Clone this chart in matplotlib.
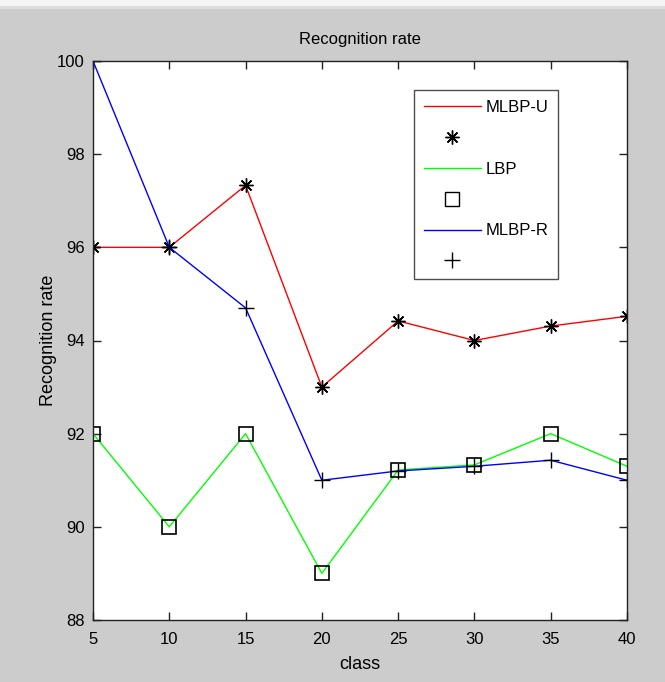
import matplotlib.pyplot as plt
from matplotlib.lines import Line2D

plt.rcParams['font.family'] = ['Liberation Sans Narrow', 'Liberation Sans', 'DejaVu Sans']

classes = [5, 10, 15, 20, 25, 30, 35, 40]
mlbp_u = [96, 96, 97.33, 93.0, 94.42, 94.0, 94.31, 94.52]
lbp = [92, 90, 92, 89, 91.22, 91.33, 92, 91.3]
mlbp_r = [100, 96, 94.7, 91.0, 91.2, 91.3, 91.43, 91.0]

fig = plt.figure(figsize=(6.65, 6.82), dpi=100, facecolor='#cccccc')
# thin light strip at the top of the window
fig.add_artist(plt.Rectangle((0, 1 - 6 / 682), 1, 6 / 682, transform=fig.transFigure,
                             color='#f4f4f4', lw=0))
fig.add_artist(plt.Rectangle((0, 1 - 9 / 682), 1, 3 / 682, transform=fig.transFigure,
                             color='#dcdcdc', lw=0))

ax = fig.add_axes([93 / 665, 1 - 620 / 682, 534 / 665, 559 / 682])
ax.set_facecolor('white')

ax.plot(classes, mlbp_u, color='#ff0000', lw=1)
ax.plot(classes, mlbp_u, ls='none', marker=(8, 2, 0), ms=10, mec='black', mew=1, color='black')
ax.plot(classes, lbp, color='#00ff00', lw=1)
ax.plot(classes, lbp, ls='none', marker='s', ms=10, mfc='none', mec='black', mew=1.2)
ax.plot(classes, mlbp_r, color='#0000ff', lw=1)
ax.plot(classes, mlbp_r, ls='none', marker='+', ms=12, mec='black', mew=1)

ax.set_xlim(5, 40)
ax.set_ylim(88, 100)
ax.set_xticks(classes)
ax.set_yticks([88, 90, 92, 94, 96, 98, 100])
ax.tick_params(direction='in', top=True, right=True, length=6, width=1,
               labelsize=12, color='#222222')
ax.tick_params(axis='x', pad=9)
ax.tick_params(axis='y', pad=6)
for s in ax.spines.values():
    s.set_color('#222222')
    s.set_linewidth(1)

ax.set_title('Recognition rate', fontsize=12, pad=12)
ax.set_xlabel('class', fontsize=13, labelpad=6)
ax.set_ylabel('Recognition rate', fontsize=13, labelpad=0)

handles = [
    Line2D([], [], color='#ff0000', lw=1),
    Line2D([], [], ls='none', marker=(8, 2, 0), ms=10, color='black'),
    Line2D([], [], color='#00ff00', lw=1),
    Line2D([], [], ls='none', marker='s', ms=10, mfc='none', mec='black'),
    Line2D([], [], color='#0000ff', lw=1),
    Line2D([], [], ls='none', marker='+', ms=12, color='black'),
]
labels = ['MLBP-U', '', 'LBP', '', 'MLBP-R', '']
leg = ax.legend(handles, labels, loc='upper left', bbox_to_anchor=(0.601, 0.948),
                fontsize=12, frameon=True, fancybox=False, edgecolor='#222222',
                handlelength=3.4, handletextpad=0.3, labelspacing=0.95,
                borderpad=0.6, borderaxespad=0)
leg.get_frame().set_linewidth(1)

fig.savefig('out.png', dpi=100, facecolor=fig.get_facecolor())
